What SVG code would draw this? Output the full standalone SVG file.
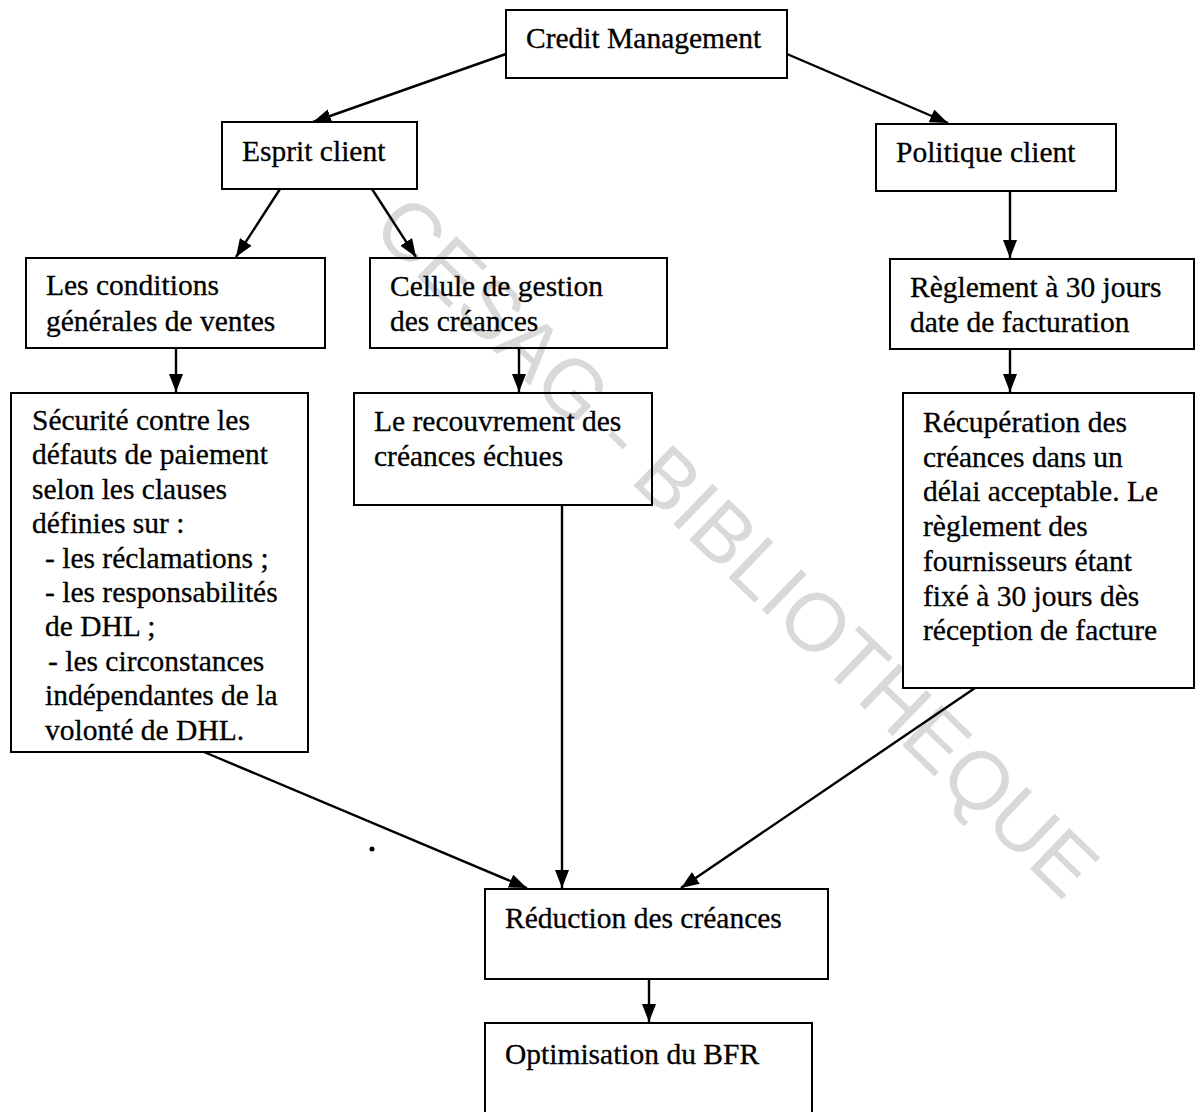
<svg xmlns="http://www.w3.org/2000/svg" width="1195" height="1112" viewBox="0 0 1195 1112">
  <style>
    .box { fill: none; stroke: #000; stroke-width: 2; }
    .lbl { font-family: "Liberation Serif", "Times New Roman", serif; font-size: 29.5px; fill: #000; stroke: #000; stroke-width: 0.3; }
    .edge { fill: none; stroke: #000; stroke-width: 2.4; marker-end: url(#head); }
    .wm { font-family: "Liberation Sans", Arial, sans-serif; font-size: 82px; fill: #d9d9d9; }
  </style>
  <defs>
    <marker id="head" viewBox="0 0 18 14" refX="18" refY="7" markerWidth="18" markerHeight="14" markerUnits="userSpaceOnUse" orient="auto">
      <path d="M0,0 L18,7 L0,14 Z" fill="#000"/>
    </marker>
  </defs>
  <rect width="1195" height="1112" fill="#fff"/>

  <!-- library stamp -->
  <g id="stamp" transform="translate(738,545) rotate(44)">
    <text class="wm" x="0" y="30" text-anchor="middle">CESAG - BIBLIOTHEQUE</text>
  </g>

  <g id="credit-management">
    <rect class="box" x="506" y="10" width="281" height="68"/>
    <text class="lbl" x="526" y="48">Credit Management</text>
  </g>
  <g id="esprit-client">
    <rect class="box" x="222" y="122" width="195" height="67"/>
    <text class="lbl" x="242" y="161">Esprit client</text>
  </g>
  <g id="politique-client">
    <rect class="box" x="876" y="124" width="240" height="67"/>
    <text class="lbl" x="896" y="162">Politique client</text>
  </g>
  <g id="conditions-generales">
    <rect class="box" x="26" y="258" width="299" height="90"/>
    <text class="lbl" x="46" y="295">Les conditions</text>
    <text class="lbl" x="46" y="331">générales de ventes</text>
  </g>
  <g id="cellule-gestion">
    <rect class="box" x="370" y="258" width="297" height="90"/>
    <text class="lbl" x="390" y="296">Cellule de gestion</text>
    <text class="lbl" x="390" y="331">des créances</text>
  </g>
  <g id="reglement-30j">
    <rect class="box" x="890" y="259" width="304" height="90"/>
    <text class="lbl" x="910" y="297">Règlement à 30 jours</text>
    <text class="lbl" x="910" y="332">date de facturation</text>
  </g>
  <g id="securite">
    <rect class="box" x="11" y="393" width="297" height="359"/>
    <text class="lbl" x="32" y="430">Sécurité contre les</text>
    <text class="lbl" x="32" y="464.4">défauts de paiement</text>
    <text class="lbl" x="32" y="498.8">selon les clauses</text>
    <text class="lbl" x="32" y="533.2">définies sur :</text>
    <text class="lbl" x="45" y="567.6">- les réclamations ;</text>
    <text class="lbl" x="45" y="602">- les responsabilités</text>
    <text class="lbl" x="45" y="636.4">de DHL ;</text>
    <text class="lbl" x="48" y="670.8">- les circonstances</text>
    <text class="lbl" x="45" y="705.2">indépendantes de la</text>
    <text class="lbl" x="45" y="739.6">volonté de DHL.</text>
  </g>
  <g id="recouvrement">
    <rect class="box" x="354" y="393" width="298" height="112"/>
    <text class="lbl" x="374" y="431">Le recouvrement des</text>
    <text class="lbl" x="374" y="466">créances échues</text>
  </g>
  <g id="recuperation">
    <rect class="box" x="903" y="393" width="291" height="295"/>
    <text class="lbl" x="923" y="432">Récupération des</text>
    <text class="lbl" x="923" y="466.7">créances dans un</text>
    <text class="lbl" x="923" y="501.4">délai acceptable. Le</text>
    <text class="lbl" x="923" y="536.1">règlement des</text>
    <text class="lbl" x="923" y="570.8">fournisseurs étant</text>
    <text class="lbl" x="923" y="605.5">fixé à 30 jours dès</text>
    <text class="lbl" x="923" y="640.2">réception de facture</text>
  </g>
  <g id="reduction">
    <rect class="box" x="485" y="889" width="343" height="90"/>
    <text class="lbl" x="505" y="928">Réduction des créances</text>
  </g>
  <g id="optimisation">
    <rect class="box" x="485" y="1023" width="327" height="100"/>
    <text class="lbl" x="505" y="1064">Optimisation du BFR</text>
  </g>

  <g id="connectors">
    <line class="edge" x1="506" y1="54" x2="313" y2="122"/>
    <line class="edge" x1="787" y1="54" x2="948" y2="123"/>
    <line class="edge" x1="280" y1="189" x2="236" y2="257"/>
    <line class="edge" x1="372" y1="189" x2="416" y2="257"/>
    <line class="edge" x1="1010" y1="191" x2="1010" y2="258"/>
    <line class="edge" x1="176" y1="348" x2="176" y2="392"/>
    <line class="edge" x1="519" y1="348" x2="519" y2="392"/>
    <line class="edge" x1="1010" y1="349" x2="1010" y2="392"/>
    <line class="edge" x1="204" y1="752" x2="527" y2="888"/>
    <line class="edge" x1="562" y1="505" x2="562" y2="888"/>
    <line class="edge" x1="975" y1="688" x2="681" y2="888"/>
    <line class="edge" x1="649" y1="979" x2="649" y2="1022"/>
  </g>

  <circle cx="372" cy="849" r="2.5" fill="#000"/>
</svg>
